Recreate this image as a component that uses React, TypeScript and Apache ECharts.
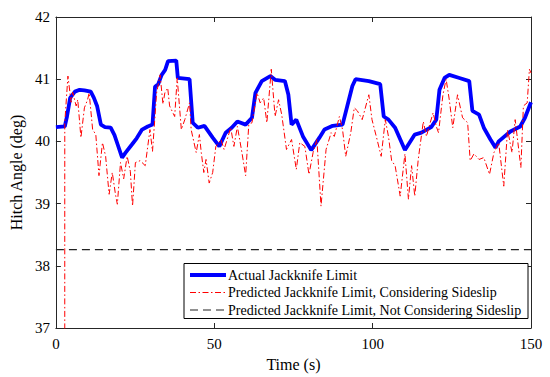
import React, { useEffect, useRef } from "react";
import * as echarts from "echarts";

const xTicks = [0, 50, 100, 150];
const yTicks = [37, 38, 39, 40, 41, 42];

const actualTime = [0, 2.8, 3.5, 4.5, 6, 7.5, 9, 11, 12, 13, 14.2, 15.5, 17.3, 18.5, 19.5, 20.9, 22, 24, 25.5, 27.2, 29, 30.5, 31.3, 32.3, 33.4, 34.5, 35.4, 38, 38.5, 42.2, 43.2, 44.8, 46.9, 49.5, 51.6, 53.6, 55.5, 57.3, 59.9, 61.9, 63, 65, 67.7, 69.2, 72.3, 73.4, 74.4, 75.9, 78, 80.6, 83.2, 84.8, 87.4, 90.5, 92, 93.6, 94.6, 98.8, 102.4, 103.5, 105, 107.1, 110.2, 113.3, 115.4, 118.5, 120.1, 121.1, 122.7, 124.2, 127.4, 130.5, 131.5, 133.6, 135.1, 137.2, 138.8, 139.8, 143.5, 146.6, 148.1, 150];
const actualLimit = [40.23, 40.24, 40.4, 40.7, 40.8, 40.83, 40.82, 40.8, 40.7, 40.57, 40.27, 40.23, 40.22, 40.1, 39.95, 39.74, 39.82, 39.95, 40.05, 40.19, 40.24, 40.27, 40.88, 40.92, 41.07, 41.15, 41.29, 41.3, 41.02, 41.0, 40.3, 40.22, 40.25, 40.06, 39.92, 40.14, 40.22, 40.32, 40.27, 40.38, 40.78, 40.97, 41.05, 40.99, 40.97, 40.75, 40.27, 40.35, 40.08, 39.86, 40.06, 40.19, 40.25, 40.27, 40.57, 40.89, 41.0, 40.97, 40.92, 40.4, 40.35, 40.22, 39.86, 40.11, 40.14, 40.23, 40.35, 40.83, 41.02, 41.07, 41.02, 40.97, 40.49, 40.43, 40.22, 40.03, 39.9, 40.0, 40.16, 40.24, 40.38, 40.63];

const sideslipTime = [2.75, 2.8, 3.8, 4.8, 5.3, 6.4, 6.9, 7.9, 9, 10, 10.5, 11.6, 12.6, 13.6, 14.7, 15.7, 16.8, 17.8, 18.8, 19.4, 20.4, 21.4, 22.5, 23.5, 24.2, 25.1, 26.6, 28.2, 29.7, 30.5, 31.8, 32.9, 33.8, 34.4, 35.3, 35.9, 37.5, 38.3, 39.6, 40.7, 42.2, 42.7, 44.3, 45.3, 45.9, 46.7, 47.4, 48.4, 49.5, 50.5, 52.1, 53.1, 55.2, 56.2, 57.3, 58.8, 59.9, 60.9, 61.9, 63.5, 64.5, 65.6, 66.6, 68, 69.2, 70.3, 71.3, 72.8, 74.4, 75.9, 77, 78.6, 79.9, 81.2, 82.4, 83.7, 85.3, 86.9, 87.9, 89.5, 90.5, 91.5, 93.1, 94.2, 95.2, 96.7, 98.8, 99.8, 101.4, 102.7, 104, 105, 106, 107.1, 108.7, 110.2, 111.3, 112.3, 113.3, 114.4, 116, 117, 118, 119.1, 120.1, 120.8, 122.2, 123.2, 124.2, 125.3, 126.8, 128.4, 130, 130.8, 132, 133.6, 135.1, 136.9, 138.3, 139.8, 141.4, 142.6, 144, 145, 146.8, 147.6, 148.8, 149.5, 150];
const sideslipLimit = [0, 40.3, 41.05, 40.63, 40.79, 40.57, 40.67, 40.06, 40.54, 40.67, 40.78, 40.19, 40.11, 39.45, 39.98, 39.76, 39.15, 39.5, 39.15, 38.99, 39.66, 39.4, 39.76, 39.52, 38.96, 39.66, 39.69, 39.61, 40.19, 39.84, 40.78, 41.07, 40.6, 40.78, 40.86, 40.57, 40.4, 41.02, 40.19, 40.35, 40.62, 40.19, 39.82, 40.11, 39.82, 39.5, 39.71, 39.33, 39.5, 39.92, 40.03, 39.87, 40.22, 39.92, 40.24, 39.8, 39.45, 40.27, 40.3, 40.78, 40.62, 40.7, 40.3, 41.16, 40.4, 40.67, 40.43, 39.87, 40.03, 39.55, 39.98, 39.92, 39.47, 39.82, 40.03, 38.96, 39.87, 40.14, 40.08, 40.4, 40.19, 39.76, 40.14, 40.54, 40.49, 40.35, 40.75, 40.35, 40.03, 39.76, 40.35, 40.08, 39.69, 39.61, 39.12, 39.8, 39.07, 39.61, 39.12, 39.71, 40.32, 40.08, 40.27, 40.46, 40.24, 40.14, 40.75, 41.0, 40.67, 40.22, 40.75, 40.38, 40.3, 39.69, 39.8, 39.71, 39.74, 39.47, 39.82, 39.98, 39.28, 40.19, 39.82, 40.35, 39.58, 40.57, 40.62, 41.16, 41.1];

const noSideslipTime = [0, 150];
const noSideslipLimit = [38.26, 38.26];

const seriesNames = [
  "Actual Jackknife Limit",
  "Predicted Jackknife Limit, Considering Sideslip",
  "Predicted Jackknife Limit, Not Considering Sideslip",
];
const seriesColors = ["#0000ff", "#ff0000", "#222222"];
const seriesWidths = [3.8, 1, 1.2];
const seriesDashes: (number[] | null)[] = [null, [6, 2.5, 1.5, 2.5], [8, 5]];

const FONT = "Liberation Serif";
const AXIS = "#262626";

const zip = (a: number[], b: number[]) => a.map((t, i) => [t, b[i]]);

export default function App() {
  const ref = useRef<HTMLDivElement>(null);
  useEffect(() => {
    if (!ref.current) return;
    const chart = echarts.init(ref.current, undefined, { renderer: "svg" });
    const baseX = {
      type: "value" as const,
      min: xTicks[0],
      max: xTicks[xTicks.length - 1],
      interval: 50,
      splitLine: { show: false },
      axisLine: { show: true, onZero: false, lineStyle: { color: AXIS, width: 1 } },
      axisTick: { show: true, inside: true, length: 5, lineStyle: { color: AXIS } },
    };
    const baseY = {
      type: "value" as const,
      min: yTicks[0],
      max: yTicks[yTicks.length - 1],
      interval: 1,
      splitLine: { show: false },
      axisLine: { show: true, onZero: false, lineStyle: { color: AXIS, width: 1 } },
      axisTick: { show: true, inside: true, length: 5, lineStyle: { color: AXIS } },
    };

    const legendLeft = 184;
    const legendTop = 263.5;
    const rowY = [275, 292.5, 310];
    const legendGraphics: any[] = [
      {
        type: "rect",
        shape: { x: legendLeft, y: legendTop, width: 344, height: 55 },
        style: { fill: "#ffffff", stroke: "#000000", lineWidth: 1 },
        z: 100,
      },
    ];
    seriesNames.forEach((name, i) => {
      legendGraphics.push({
        type: "line",
        shape: { x1: 190, y1: rowY[i], x2: 226, y2: rowY[i] },
        style: {
          stroke: seriesColors[i],
          lineWidth: seriesWidths[i],
          lineDash: seriesDashes[i] || undefined,
        },
        z: 101,
      });
      legendGraphics.push({
        type: "text",
        x: 228,
        y: rowY[i],
        style: {
          text: name,
          fontFamily: FONT,
          fontSize: 14,
          fill: "#000000",
          verticalAlign: "middle",
          align: "left",
        },
        z: 101,
      });
    });

    chart.setOption({
      animation: false,
      backgroundColor: "#ffffff",
      textStyle: { fontFamily: FONT },
      grid: { left: 49.5, right: 19, top: 17, bottom: 47.5, containLabel: false },
      graphic: legendGraphics,
      xAxis: [
        {
          ...baseX,
          position: "bottom",
          name: "Time (s)",
          nameLocation: "middle",
          nameGap: 28,
          nameTextStyle: { fontFamily: FONT, fontSize: 16, color: "#000000" },
          axisLabel: { fontFamily: FONT, fontSize: 15, color: "#000000", margin: 8 },
        },
        { ...baseX, position: "top", axisLabel: { show: false } },
      ],
      yAxis: [
        {
          ...baseY,
          position: "left",
          name: "Hitch Angle (deg)",
          nameLocation: "middle",
          nameGap: 25,
          nameTextStyle: { fontFamily: FONT, fontSize: 16, color: "#000000" },
          axisLabel: { fontFamily: FONT, fontSize: 15, color: "#000000", margin: 6 },
        },
        { ...baseY, position: "right", axisLabel: { show: false } },
      ],
      series: [
        {
          name: seriesNames[0],
          type: "line",
          data: zip(actualTime, actualLimit),
          showSymbol: false,
          symbol: "none",
          clip: true,
          lineStyle: { color: seriesColors[0], width: seriesWidths[0] },
          z: 3,
        },
        {
          name: seriesNames[1],
          type: "line",
          data: zip(sideslipTime, sideslipLimit),
          showSymbol: false,
          symbol: "none",
          clip: true,
          lineStyle: { color: seriesColors[1], width: seriesWidths[1], type: seriesDashes[1] },
          z: 4,
        },
        {
          name: seriesNames[2],
          type: "line",
          data: zip(noSideslipTime, noSideslipLimit),
          showSymbol: false,
          symbol: "none",
          clip: true,
          lineStyle: { color: seriesColors[2], width: seriesWidths[2], type: seriesDashes[2] },
          z: 2,
        },
      ],
    });
    return () => chart.dispose();
  }, []);
  return <div ref={ref} style={{ width: 550, height: 377, position: "absolute", left: 0, top: 0 }} />;
}
